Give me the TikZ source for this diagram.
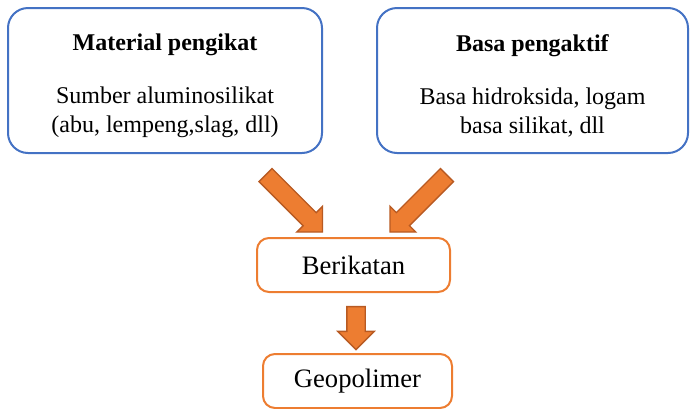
\documentclass[tikz,border=0pt]{standalone}
\usepackage{fontspec}
\setmainfont{Liberation Serif}
\usepackage{xcolor}
\usepackage{tikz}
\usetikzlibrary{shapes.arrows}
\definecolor{boxblue}{HTML}{4472C4}
\definecolor{boxorange}{HTML}{ED7D31}
\definecolor{arroworange}{HTML}{B85A22}
\tikzset{bluebox/.style = {draw=boxblue, line width=1pt, rounded corners=10pt, align=center,
    minimum height=72.5pt, font=\fontsize{12}{14.5}\selectfont}}
\tikzset{orangebox/.style = {draw=boxorange, line width=1pt, rounded corners=6pt,
    minimum height=27pt, font=\fontsize{13.3}{16}\selectfont}}
\tikzset{blockarrow/.style = {single arrow, draw=arroworange, fill=boxorange, line width=0.7pt,
    inner xsep=0pt, inner ysep=4.25pt, single arrow head extend=4.5pt}}

\begin{document}
\begin{tikzpicture}[x=0.5pt, y=-0.5pt]
    \useasboundingbox (0,0) rectangle (690,408);

    \node[bluebox, minimum width=157pt] (binder) at (165, 80.5)
        {\rule{0pt}{13.5pt}\textbf{Material pengikat}\\[12pt]Sumber aluminosilikat\\(abu, lempeng,slag, dll)};
    \node[bluebox, minimum width=155.5pt] (activator) at (532.5, 80.5)
        {\rule{0pt}{13.5pt}\textbf{Basa pengaktif}\\[12pt]Basa hidroksida, logam\\basa silikat, dll};

    \node[orangebox, minimum width=96.5pt] (bond) at (353.5, 265) {Berikatan};
    \node[orangebox, minimum width=94.5pt] (geo) at (357.5, 381) {Geopolimer};

    \node[blockarrow, minimum height=40.3pt, rotate=-45] (arrA) at (290.75, 200.25) {};
    \node[blockarrow, minimum height=40.3pt, rotate=-135] (arrB) at (421.75, 200.25) {};
    \node[blockarrow, minimum height=21.5pt, rotate=-90] (arrC) at (356, 323.5) {};

\end{tikzpicture}
\end{document}
